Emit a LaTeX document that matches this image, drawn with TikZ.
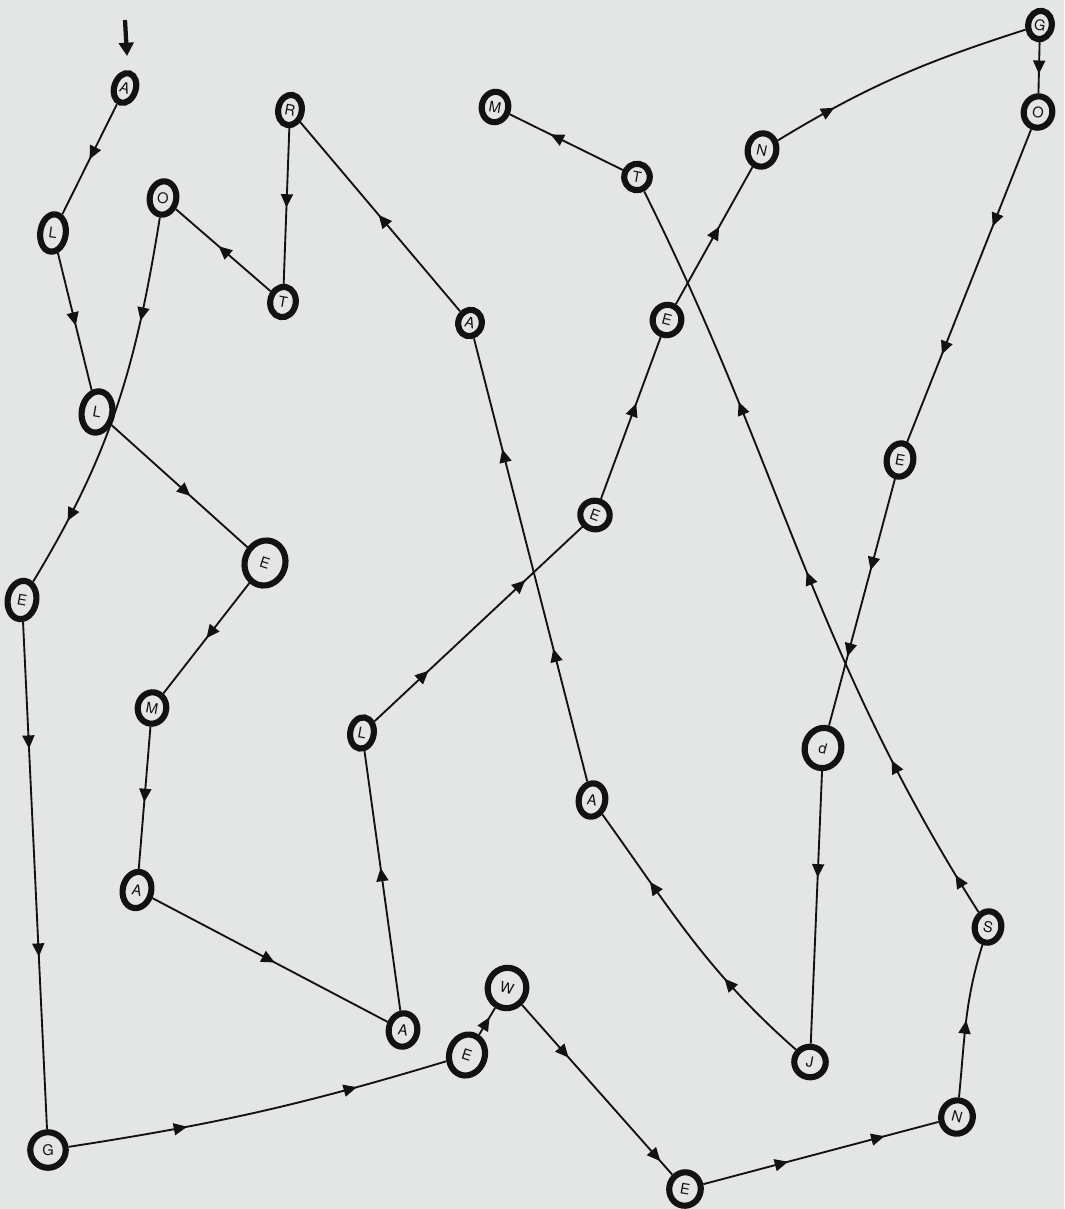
\documentclass[tikz,border=0pt]{standalone}
\usepackage{fontspec}
\setsansfont{TeX Gyre Heros}
\usetikzlibrary{shapes.geometric,decorations.markings,arrows.meta}
\definecolor{bg}{RGB}{228,230,229}
\definecolor{ink}{RGB}{18,18,18}
\tikzset{
  nd/.style 2 args={ellipse, draw=ink, line width=4.6pt, fill=bg, inner sep=0pt,
    minimum width=(#1-1.5)*0.75pt, minimum height=(#2-1.5)*0.75pt,
    font=\sffamily\fontsize{11}{11}\selectfont, text=ink},
  cn/.style={draw=ink, line width=1.4pt},
  ar/.style={postaction={decorate, decoration={markings,
    mark=at position #1 with {\arrow{Triangle[length=10pt,width=9pt]}}}}},
  startarrow/.style={draw=ink, line width=3.2pt, -{Triangle[length=10pt,width=11pt]}},
}
\begin{document}
\begin{tikzpicture}[x=0.75pt,y=0.75pt]
\fill[bg] (0,0) rectangle (1064,-1209);
\useasboundingbox (0,0) rectangle (1064,-1209);

% nodes
\node[nd={23}{32}, rotate=-18] (A1) at (125,-88) {A};
\node[nd={27}{39}, rotate=-8] (L1) at (53,-233) {L};
\node[nd={32}{43}, rotate=-10] (L2) at (97,-412) {L};
\node[nd={42}{47}, rotate=-18] (E2) at (265,-563) {E};
\node[nd={30}{33}, rotate=-10] (M1) at (152,-708) {M};
\node[nd={30}{38}, rotate=-12] (A4) at (137,-890) {A};
\node[nd={30}{35}, rotate=-10] (A5) at (403,-1030) {A};
\node[nd={25}{33}, rotate=-10] (L3) at (362,-733) {L};
\node[nd={31}{30}, rotate=-20] (E4) at (595,-515) {E};
\node[nd={30}{32}, rotate=-15] (E5) at (667,-320) {E};
\node[nd={30}{35}, rotate=-12] (N1) at (762,-150) {N};
\node[nd={25}{30}, rotate=-10] (G2) at (1040,-25) {G};
\node[nd={30}{33}, rotate=-12] (O2) at (1038,-112) {O};
\node[nd={28}{35}, rotate=-10] (E6) at (900,-460) {E};
\node[nd={38}{42}, rotate=-15] (D) at (823,-748) {d};
\node[nd={33}{32}, rotate=-10] (J) at (810,-1062) {J};
\node[nd={28}{35}, rotate=-10] (A3) at (592,-800) {A};
\node[nd={25}{28}, rotate=-15] (A2) at (470,-323) {A};
\node[nd={25}{32}, rotate=-10] (R) at (290,-110) {R};
\node[nd={27}{32}, rotate=-10] (T1) at (283,-302) {T};
\node[nd={28}{35}, rotate=-10] (O1) at (163,-198) {O};
\node[nd={30}{40}, rotate=-10] (E3) at (22,-600) {E};
\node[nd={37}{37}] (G3) at (48,-1150) {G};
\node[nd={37}{43}, rotate=-18] (E8) at (467,-1055) {E};
\node[nd={40}{42}, rotate=-15] (W) at (507,-988) {W};
\node[nd={33}{35}, rotate=-10] (E7) at (685,-1189) {E};
\node[nd={33}{35}, rotate=-15] (N2) at (957,-1117) {N};
\node[nd={28}{33}, rotate=-10] (S) at (988,-927) {S};
\node[nd={27}{28}, rotate=-10] (T2) at (637,-177) {T};
\node[nd={28}{32}, rotate=-10] (M2) at (495,-107) {M};

% start arrow
\coordinate (s0) at (125,-20);
\coordinate (s1) at (127,-56);
\draw[startarrow] (s0) -- (s1);

% path
\draw[cn, ar=0.5] (A1) -- (L1);
\draw[cn, ar=0.53] (L1) -- (L2);
\draw[cn, ar=0.58] (L2) -- (E2);
\draw[cn, ar=0.5] (E2) -- (M1);
\draw[cn, ar=0.53] (M1) -- (A4);
\draw[cn, ar=0.52] (A4) -- (A5);
\draw[cn, ar=0.55] (A5) -- (L3);
\draw[cn, ar=0.26, ar=0.725] (L3) -- (E4);
\draw[cn, ar=0.59] (E4) -- (E5);
\draw[cn, ar=0.565] (E5) -- (N1);
\draw[cn, ar=0.24] (N1) to[out=33, in=199] (G2);
\draw[cn, ar=0.62] (G2) -- (O2);
\draw[cn, ar=0.31, ar=0.72] (O2) -- (E6);
\draw[cn, ar=0.37, ar=0.72] (E6) -- (D);
\draw[cn, ar=0.39] (D) -- (J);
\draw[cn, ar=0.33, ar=0.73] (J) to[out=140, in=-53] (A3);
\draw[cn, ar=0.3, ar=0.75] (A3) -- (A2);
\draw[cn, ar=0.51] (A2) -- (R);
\draw[cn, ar=0.51] (R) -- (T1);
\draw[cn, ar=0.55] (T1) -- (O1);
\draw[cn, ar=0.27, ar=0.82] (O1) to[out=262, in=60] (E3);
\draw[cn, ar=0.25, ar=0.66] (E3) -- (G3);
\draw[cn, ar=0.31, ar=0.76] (G3) to[bend right=4] (E8);
\draw[cn, ar=0.65] (E8) -- (W);
\draw[cn, ar=0.31, ar=0.92] (W) -- (E7);
\draw[cn, ar=0.36, ar=0.77] (E7) -- (N2);
\draw[cn, ar=0.5] (N2) to[out=88, in=255] (S);
\draw[cn, ar=0.055, ar=0.22, ar=0.48, ar=0.71] (S) to[out=123, in=297] (T2);
\draw[cn, ar=0.64] (T2) -- (M2);
\end{tikzpicture}
\end{document}
